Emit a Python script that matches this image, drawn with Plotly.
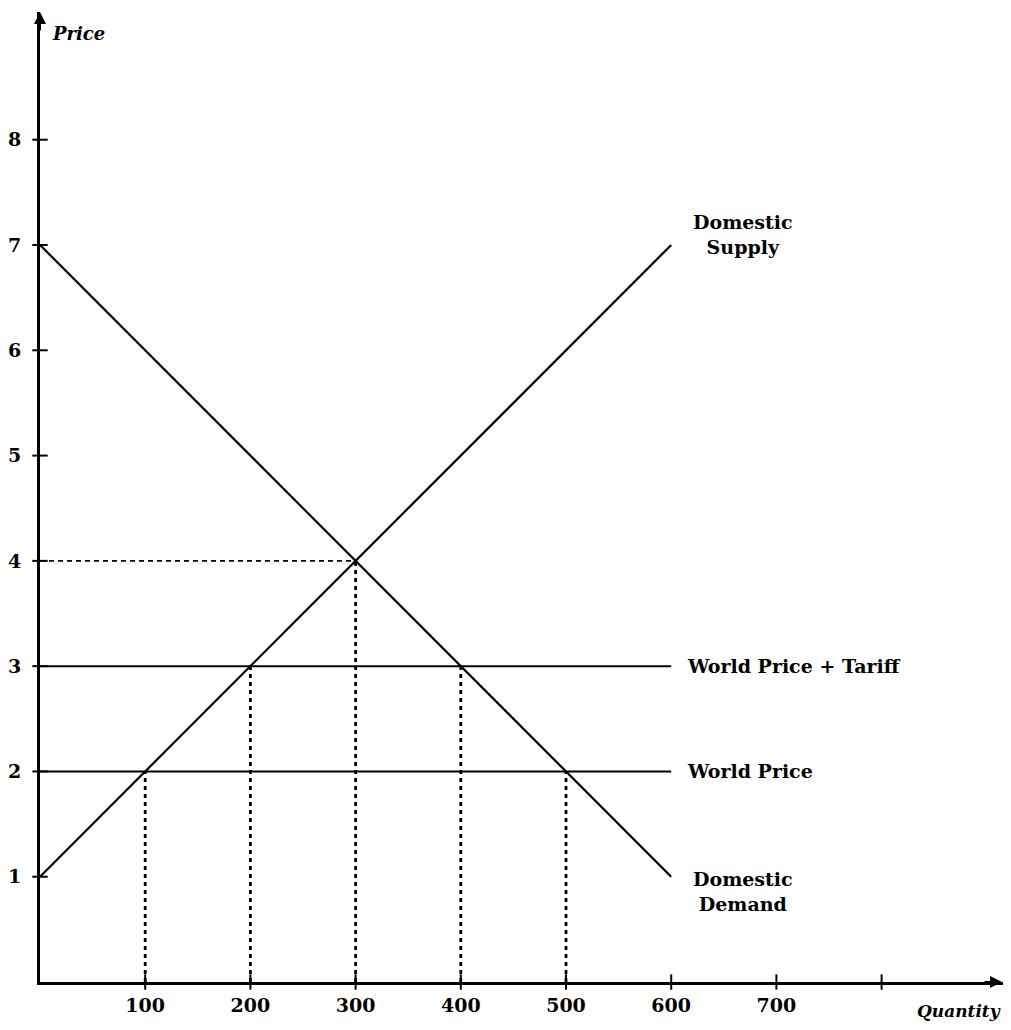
import plotly.graph_objects as go

# ---- data ----
supply_q = [0, 600]
supply_p = [1, 7]
demand_q = [0, 600]
demand_p = [7, 1]
world_price = 2
tariff_price = 3
line_end_q = 600
drop_q = [100, 200, 300, 400, 500]
drop_p = [2, 3, 4, 3, 2]
eq_q = 300
eq_p = 4
x_ticks = [100, 200, 300, 400, 500, 600, 700, 800]
x_tick_labels = ["100", "200", "300", "400", "500", "600", "700", ""]
y_ticks = [1, 2, 3, 4, 5, 6, 7, 8]
y_tick_labels = ["1", "2", "3", "4", "5", "6", "7", "8"]

FONT = "DejaVu Serif"
fig = go.Figure()

# dotted drop lines
for q, p in zip(drop_q, drop_p):
    fig.add_trace(go.Scatter(x=[q, q], y=[0, p], mode="lines",
                             line=dict(color="black", width=2.8, dash="4px,4px"),
                             hoverinfo="skip", showlegend=False))
fig.add_trace(go.Scatter(x=[0, eq_q], y=[eq_p, eq_p], mode="lines",
                         line=dict(color="black", width=1.6, dash="5px,4px"),
                         hoverinfo="skip", showlegend=False))

# price lines
for p in [tariff_price, world_price]:
    fig.add_trace(go.Scatter(x=[0, line_end_q], y=[p, p], mode="lines",
                             line=dict(color="black", width=2),
                             hoverinfo="skip", showlegend=False))

fig.add_trace(go.Scatter(x=supply_q, y=supply_p, mode="lines",
                         line=dict(color="black", width=2.2), showlegend=False))
fig.add_trace(go.Scatter(x=demand_q, y=demand_p, mode="lines",
                         line=dict(color="black", width=2.2), showlegend=False))

# tick crosses
fig.add_trace(go.Scatter(x=x_ticks, y=[0] * len(x_ticks), mode="markers",
                         marker=dict(symbol="line-ns", size=11,
                                     line=dict(color="black", width=2)),
                         cliponaxis=False, hoverinfo="skip", showlegend=False))
fig.add_trace(go.Scatter(x=[0] * len(y_ticks), y=y_ticks, mode="markers",
                         marker=dict(symbol="line-ew", size=11,
                                     line=dict(color="black", width=2)),
                         cliponaxis=False, hoverinfo="skip", showlegend=False))

ann_font = dict(family=FONT, size=19, color="black")
annotations = [
    dict(x=613, y=tariff_price, text="<b>World Price + Tariff</b>", xanchor="left",
         yanchor="middle", showarrow=False, font=ann_font),
    dict(x=613, y=world_price, text="<b>World Price</b>", xanchor="left",
         yanchor="middle", showarrow=False, font=ann_font),
    dict(x=668, y=7.1, text="<b>Domestic<br>Supply</b>", xanchor="center",
         yanchor="middle", showarrow=False, font=ann_font),
    dict(x=668, y=0.86, text="<b>Domestic<br>Demand</b>", xanchor="center",
         yanchor="middle", showarrow=False, font=ann_font),
    dict(xref="paper", yref="paper", x=0.01, y=0.978, text="<b><i>Price</i></b>",
         xanchor="left", yanchor="middle", showarrow=False,
         font=dict(family=FONT, size=18, color="black")),
    dict(xref="paper", yref="paper", x=1.0, y=-0.03, text="<b><i>Quantity</i></b>",
         xanchor="right", yanchor="middle", showarrow=False,
         font=dict(family=FONT, size=17, color="black")),
    # axis arrowheads
    dict(xref="paper", yref="paper", x=1.0, y=0, ax=-20, ay=0, axref="pixel",
         ayref="pixel", showarrow=True, arrowhead=2, arrowsize=1.2,
         arrowwidth=2, arrowcolor="black", text=""),
    dict(xref="paper", yref="paper", x=0, y=1.0, ax=0, ay=20, showarrow=True,
         arrowhead=2, arrowsize=1.2, arrowwidth=2, arrowcolor="black", text=""),
]

fig.update_layout(
    width=995, height=1014,
    margin=dict(l=32, r=0, t=4, b=40, autoexpand=False),
    paper_bgcolor="white", plot_bgcolor="white",
    showlegend=False,
    annotations=annotations,
    xaxis=dict(range=[0, 915.4], showgrid=False, zeroline=False, automargin=False,
               showline=True, linecolor="black", linewidth=3,
               tickmode="array", tickvals=x_ticks, ticktext=x_tick_labels,
               ticks="", ticklabelstandoff=4,
               tickfont=dict(family=FONT, size=19, color="black", weight="bold")),
    yaxis=dict(range=[0, 9.213], showgrid=False, zeroline=False, automargin=False,
               showline=True, linecolor="black", linewidth=3,
               tickmode="array", tickvals=y_ticks, ticktext=y_tick_labels,
               ticks="", ticklabelstandoff=12,
               tickfont=dict(family=FONT, size=19, color="black", weight="bold")),
)

fig.write_html("out.html")
